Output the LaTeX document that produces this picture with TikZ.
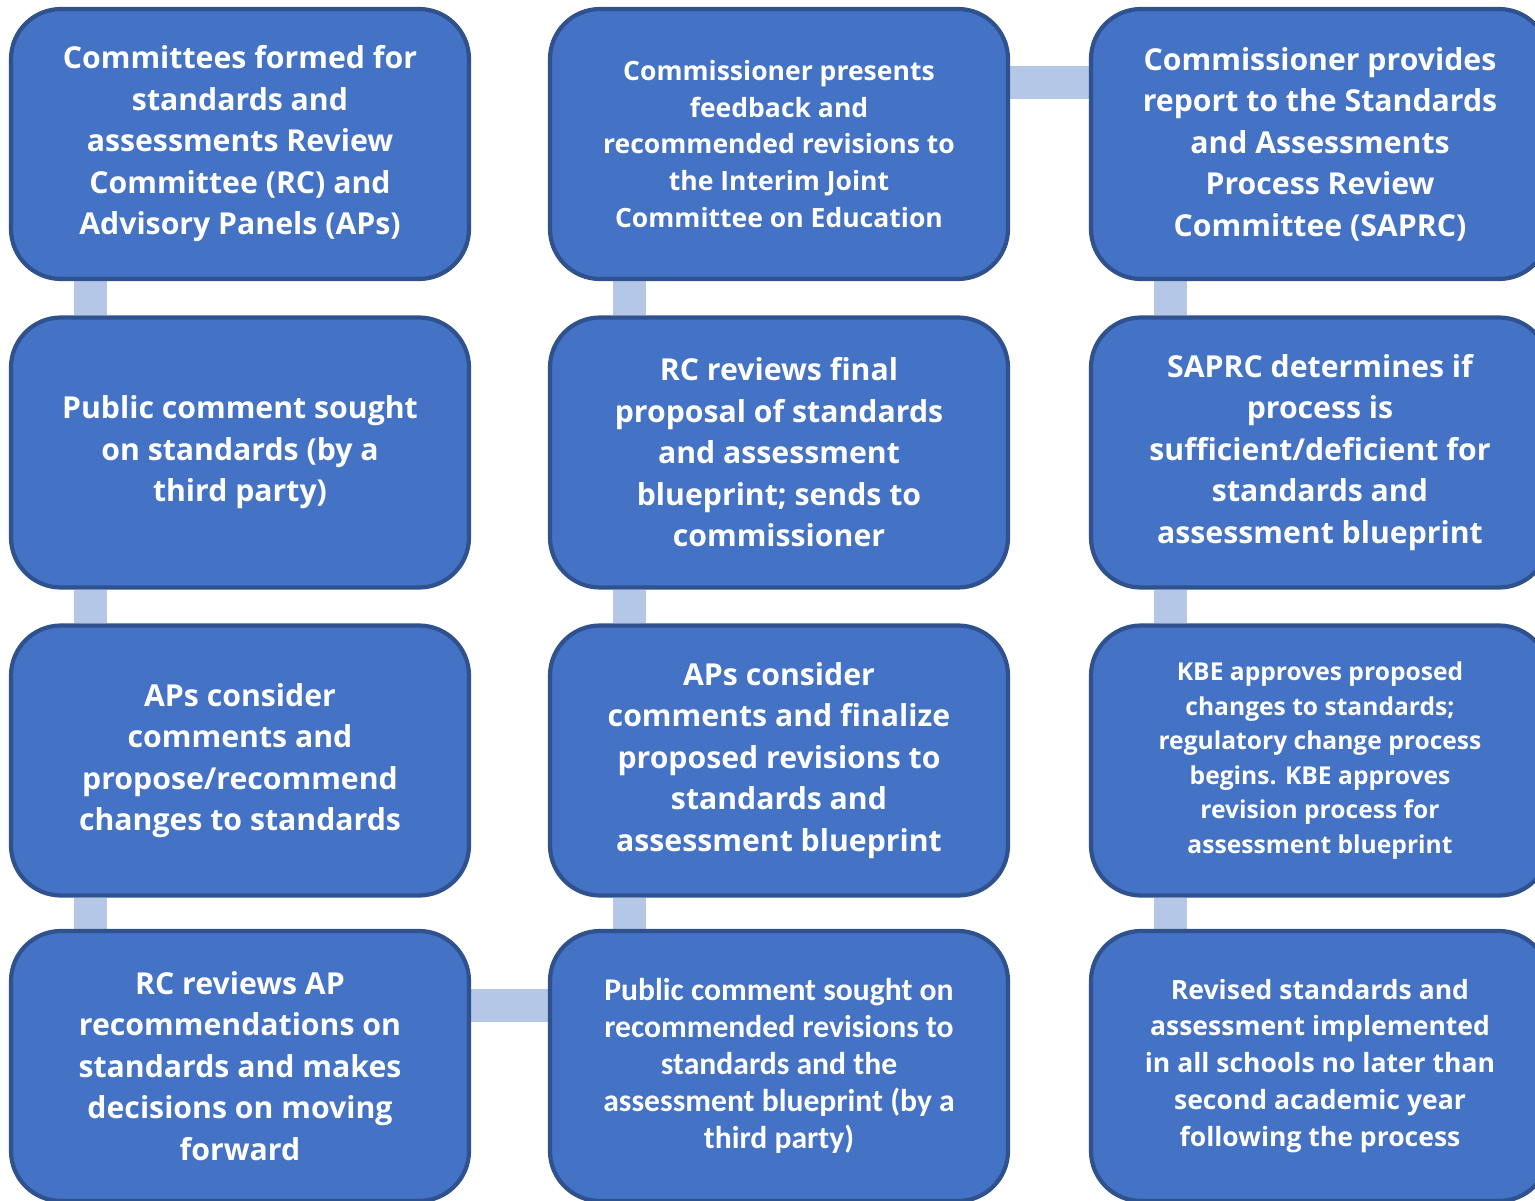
\documentclass[tikz,border=0pt]{standalone}
\usepackage{fontspec}
\setmainfont{Open Sans}
\newfontfamily\carlito{Carlito}
\usetikzlibrary{backgrounds}
\definecolor{boxfill}{HTML}{4472C4}
\definecolor{boxline}{HTML}{2F528F}
\definecolor{linkcol}{HTML}{B4C7E7}
\tikzstyle{box}      = [draw=boxline, line width=1.2pt, fill=boxfill, rounded corners=0.5cm, minimum width=4.58cm, minimum height=2.7cm, text=white, align=center, font=\bfseries\fontsize{8.6}{11.8}\selectfont]
\tikzstyle{boxmid}   = [box, font=\bfseries\fontsize{7.55}{10.5}\selectfont]
\tikzstyle{boxsmall} = [box, font=\bfseries\fontsize{7}{9.8}\selectfont]
\tikzstyle{link}     = [linkcol, line width=0.33cm]

\begin{document}
\begin{tikzpicture}[scale=1]
\useasboundingbox (0,0) rectangle (15.35,-12.01);

\node[box]      (B1)  at (2.40,-1.44)   {Committees formed for\\standards and\\assessments Review\\Committee (RC) and\\Advisory Panels (APs)};
\node[box]      (B2)  at (2.40,-4.525)  {Public comment sought\\on standards (by a\\third party)};
\node[box]      (B3)  at (2.40,-7.605)  {APs consider\\comments and\\propose/recommend\\changes to standards};
\node[box]      (B4)  at (2.40,-10.66)  {RC reviews AP\\recommendations on\\standards and makes\\decisions on moving\\forward};

\node[boxmid, font=\carlito\bfseries\fontsize{9}{10.5}\selectfont]
                (B5)  at (7.79,-10.66)  {Public comment sought on\\recommended revisions to\\standards and the\\assessment blueprint (by a\\third party)};
\node[box]      (B6)  at (7.79,-7.605)  {APs consider\\comments and finalize\\proposed revisions to\\standards and\\assessment blueprint};
\node[box]      (B7)  at (7.79,-4.525)  {RC reviews final\\proposal of standards\\and assessment\\blueprint; sends to\\commissioner};
\node[boxmid]   (B8)  at (7.79,-1.44)   {Commissioner presents\\feedback and\\recommended revisions to\\the Interim Joint\\Committee on Education};

\node[box]      (B9)  at (13.20,-1.44)  {Commissioner provides\\report to the Standards\\and Assessments\\Process Review\\Committee (SAPRC)};
\node[box]      (B10) at (13.20,-4.525) {SAPRC determines if\\process is\\sufficient/deficient for\\standards and\\assessment blueprint};
\node[boxsmall] (B11) at (13.20,-7.605) {KBE approves proposed\\changes to standards;\\regulatory change process\\begins. KBE approves\\revision process for\\assessment blueprint};
\node[boxmid]   (B12) at (13.20,-10.66) {Revised standards and\\assessment implemented\\in all schools no later than\\second academic year\\following the process};

\begin{pgfonlayer}{background}
\draw[link] ([xshift=0.82cm]B1.south west) -- ([xshift=0.82cm]B2.north west);
\draw[link] ([xshift=0.82cm]B2.south west) -- ([xshift=0.82cm]B3.north west);
\draw[link] ([xshift=0.82cm]B3.south west) -- ([xshift=0.82cm]B4.north west);
\draw[link] ([yshift=-0.77cm]B4.north east) -- ([yshift=-0.77cm]B5.north west);
\draw[link] ([xshift=0.82cm]B5.north west) -- ([xshift=0.82cm]B6.south west);
\draw[link] ([xshift=0.82cm]B6.north west) -- ([xshift=0.82cm]B7.south west);
\draw[link] ([xshift=0.82cm]B7.north west) -- ([xshift=0.82cm]B8.south west);
\draw[link] ([yshift=-0.76cm]B8.north east) -- ([yshift=-0.76cm]B9.north west);
\draw[link] ([xshift=0.82cm]B9.south west) -- ([xshift=0.82cm]B10.north west);
\draw[link] ([xshift=0.82cm]B10.south west) -- ([xshift=0.82cm]B11.north west);
\draw[link] ([xshift=0.82cm]B11.south west) -- ([xshift=0.82cm]B12.north west);
\end{pgfonlayer}

\end{tikzpicture}
\end{document}
